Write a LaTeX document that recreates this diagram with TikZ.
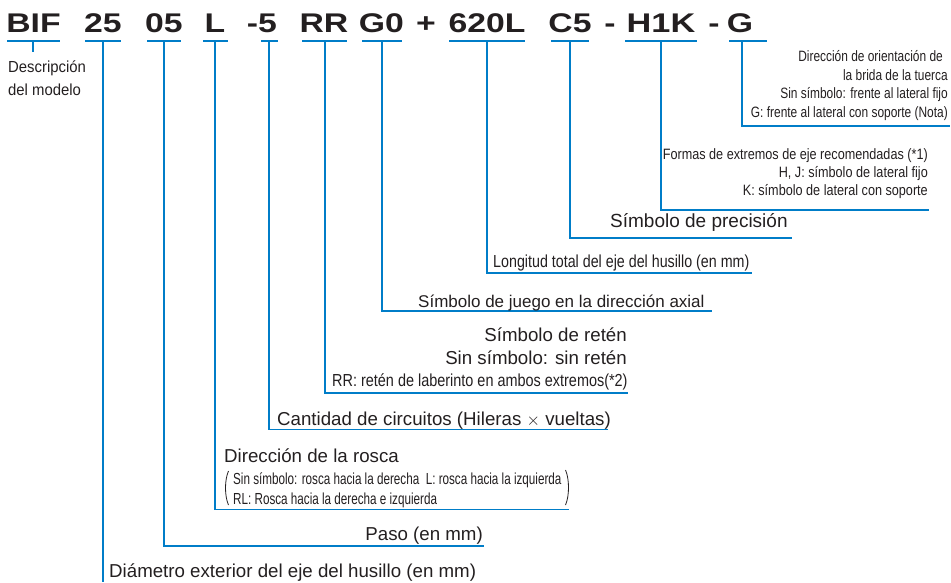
\documentclass[tikz,border=0pt]{standalone}
\usepackage{fontspec}
\setmainfont{Liberation Sans}
\usepackage{graphicx}
\definecolor{lblue}{RGB}{0,125,200}
\definecolor{txt}{RGB}{35,31,32}
\newcommand\hsc[2]{\scalebox{#1}[1]{#2}}
\begin{document}
\begin{tikzpicture}[x=1pt,y=-1pt,
  ln/.style={draw=lblue,line width=1.8pt,line join=miter,line cap=butt},
  code/.style={font=\bfseries\fontsize{27}{27}\selectfont,inner sep=0pt,anchor=base,text=txt},
  big/.style={font=\fontsize{18.7}{20}\selectfont,inner sep=0pt,text=txt},
  cond/.style={font=\fontsize{16}{18}\selectfont,inner sep=0pt,text=txt},
  conds/.style={font=\fontsize{15}{18}\selectfont,inner sep=0pt,text=txt},
  condl/.style={font=\fontsize{17.4}{19}\selectfont,inner sep=0pt,text=txt},
  paren/.style={draw=txt,line width=0.8pt}]
\useasboundingbox (0,0) rectangle (951,582);

% ---- code letters
\node[code] (kBIF) at (33.5,32) {\hsc{1.25}{BIF}};
\node[code] (k25)  at (103,32)  {\hsc{1.25}{25}};
\node[code] (k05)  at (164,32)  {\hsc{1.25}{05}};
\node[code] (kL)   at (215,32)  {\hsc{1.25}{L}};
\node[code] (km5)  at (262,32)  {\hsc{1.25}{-5}};
\node[code] (kRR)  at (324,32)  {\hsc{1.25}{RR}};
\node[code] (kG0)  at (381.5,32){\hsc{1.25}{G0}};
\node[code] (kplus) at (426,32) {\hsc{1.25}{+}};
\node[code] (k620) at (487,32)  {\hsc{1.25}{620L}};
\node[code] (kC5)  at (570,32)  {\hsc{1.25}{C5}};
\node[code] (kd1)  at (610,32)  {\hsc{1.25}{-}};
\node[code] (kH1K) at (661,32)  {\hsc{1.27}{H1K}};
\node[code] (kd2)  at (714,32)  {\hsc{1.25}{-}};
\node[code] (kG)   at (740,32)  {\hsc{1.25}{G}};

% ---- underline coordinates
\coordinate (aBIF) at (7,41);   \coordinate (bBIF) at (60,41);
\coordinate (a25)  at (85,41);  \coordinate (b25)  at (121,41);
\coordinate (a05)  at (147,41); \coordinate (b05)  at (181,41);
\coordinate (aL)   at (203,41); \coordinate (bL)   at (228,41);
\coordinate (am5)  at (261,41); \coordinate (bm5)  at (278,41);
\coordinate (aRR)  at (302,41); \coordinate (bRR)  at (347,41);
\coordinate (aG0)  at (362,41); \coordinate (bG0)  at (402,41);
\coordinate (a620) at (449,41); \coordinate (b620) at (525,41);
\coordinate (aC5)  at (551,41); \coordinate (bC5)  at (589,41);
\coordinate (aH1K) at (625,41); \coordinate (bH1K) at (697,41);
\coordinate (aG)   at (729,41); \coordinate (bG)   at (767,41);
% vertical starts
\coordinate (vBIF) at (33,41);
\coordinate (v25)  at (103,41);
\coordinate (v05)  at (164,41);
\coordinate (vL)   at (215,41);
\coordinate (vm5)  at (269,41);
\coordinate (vRR)  at (325,41);
\coordinate (vG0)  at (382,41);
\coordinate (v620) at (487,41);
\coordinate (vC5)  at (570,41);
\coordinate (vH1K) at (661,41);
\coordinate (vG)   at (742,41);
% line ends
\coordinate (eBIF) at (33,52);
\coordinate (e25)  at (103,582);
\coordinate (e05)  at (484,546);
\coordinate (eL)   at (569,509.5);
\coordinate (em5)  at (608,429.5);
\coordinate (eRR)  at (628,393);
\coordinate (eG0)  at (712,311);
\coordinate (e620) at (752,273);
\coordinate (eC5)  at (792,238);
\coordinate (eH1K) at (929,210);
\coordinate (eG)   at (950,126);

\foreach \n in {BIF,25,05,L,m5,RR,G0,620,C5,H1K,G}{
  \draw[ln] (a\n) -- (b\n);
}
\draw[ln] (vBIF) -- (eBIF);
\draw[ln] (v25) -- (e25);
\foreach \n in {05,L,m5,RR,G0,620,C5,H1K,G}{
  \draw[ln] (v\n) |- (e\n);
}

% ---- labels
\node[cond,anchor=base west] (tDesc1) at (8,72.7) {\hsc{0.93}{Descripción}};
\node[cond,anchor=base west] (tDesc2) at (8,95) {\hsc{0.93}{del modelo}};

\node[conds,anchor=base east] (tG1) at (943,61.5) {\hsc{0.795}{Dirección de orientación de}};
\node[conds,anchor=base east] (tG2) at (948,80.2) {\hsc{0.795}{la brida de la tuerca}};
\node[conds,anchor=base east] (tG3) at (948,98.9) {\hsc{0.795}{Sin símbolo: frente al lateral fijo}};
\node[conds,anchor=base east] (tG4) at (948,117.6) {\hsc{0.795}{G: frente al lateral con soporte (Nota)}};

\node[conds,anchor=base east] (tH1) at (928,159) {\hsc{0.843}{Formas de extremos de eje recomendadas (*1)}};
\node[conds,anchor=base east] (tH2) at (928,177.3) {\hsc{0.843}{H, J: símbolo de lateral fijo}};
\node[conds,anchor=base east] (tH3) at (928,195.7) {\hsc{0.843}{K: símbolo de lateral con soporte}};

\node[big,font=\fontsize{19}{20}\selectfont,anchor=base west] (tC5) at (610,227.3) {Símbolo de precisión};
\node[condl,anchor=base west] (t620) at (493,267.5) {\hsc{0.82}{Longitud total del eje del husillo (en mm)}};
\node[big,font=\fontsize{17}{20}\selectfont,anchor=base west] (tG0) at (418,307) {Símbolo de juego en la dirección axial};
\node[big,anchor=base east] (tRR1) at (627,341) {Símbolo de retén};
\node[big,anchor=base east] (tRR2) at (627,364) {Sin símbolo: sin retén};
\node[condl,anchor=base west] (tRR3) at (332,386.7) {\hsc{0.83}{RR: retén de laberinto en ambos extremos(*2)}};
\node[big,anchor=base west] (tm5) at (277,425) {Cantidad de circuitos (Hileras $\times$ vueltas)};
\node[big,anchor=base west] (tL1) at (224,462.7) {Dirección de la rosca};
\node[cond,anchor=base west] (tL2) at (233,484.3) {\hsc{0.73}{Sin símbolo: rosca hacia la derecha\ \ L: rosca hacia la izquierda}};
\node[cond,anchor=base west] (tL3) at (233,504) {\hsc{0.73}{RL: Rosca hacia la derecha e izquierda}};
\node[big,anchor=base east] (t05) at (483,540) {Paso (en mm)};
\node[big,anchor=base west] (t25) at (109,577) {Diámetro exterior del eje del husillo (en mm)};

% parentheses
\draw[paren] (228.5,471) .. controls (224.5,480) and (224.5,496) .. (228.5,505);
\draw[paren] (565.5,470) .. controls (569.5,479) and (569.5,496) .. (565.5,505);
\end{tikzpicture}
\end{document}
